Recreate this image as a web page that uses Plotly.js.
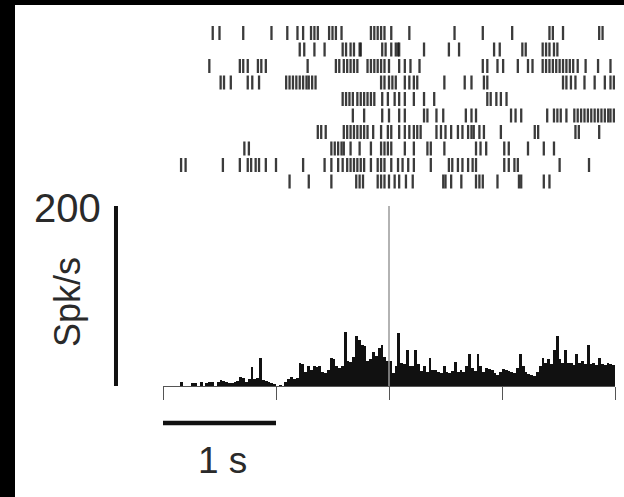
<!DOCTYPE html>
<html><head><meta charset="utf-8">
<script src="https://cdn.plot.ly/plotly-3.0.1.min.js"></script>
<style>
html,body{margin:0;padding:0;background:#000;width:624px;height:497px;overflow:hidden}
#chart{position:absolute;left:15px;top:5px;width:609px;height:492px;background:#fff}
</style></head><body><div id="chart"></div>
<script>
// Spike times (s) relative to event at t = 0, one array per trial (top to bottom)
const trial1 = [-1.56,-1.50,-1.29,-1.04,-0.90,-0.81,-0.76,-0.69,-0.66,-0.63,-0.53,-0.50,-0.47,-0.42,-0.16,-0.13,-0.10,-0.07,-0.04,0.02,0.18,0.58,0.83,1.09,1.42,1.45,1.54,1.86,1.89];
const trial2 = [-0.79,-0.75,-0.66,-0.57,-0.41,-0.38,-0.34,-0.31,-0.26,-0.25,-0.06,-0.03,0.02,0.06,0.08,0.09,0.31,0.53,0.62,0.93,0.98,1.18,1.21,1.36,1.39,1.42,1.46,1.49];
const trial3 = [-1.59,-1.32,-1.29,-1.25,-1.16,-1.13,-1.09,-0.72,-0.47,-0.44,-0.40,-0.37,-0.34,-0.31,-0.28,-0.19,-0.16,-0.13,-0.10,-0.07,-0.04,0.00,0.09,0.14,0.19,0.27,0.83,0.87,0.96,1.01,1.14,1.23,1.27,1.36,1.39,1.42,1.45,1.48,1.51,1.54,1.57,1.60,1.63,1.67,1.74,1.85,1.96];
const trial4 = [-1.49,-1.46,-1.40,-1.25,-1.21,-1.15,-0.91,-0.88,-0.85,-0.82,-0.79,-0.76,-0.73,-0.71,-0.68,-0.65,-0.07,-0.04,0.00,0.03,0.06,0.14,0.18,0.22,0.25,0.49,0.67,0.73,0.84,0.87,1.54,1.57,1.61,1.65,1.73,1.82,1.91,1.96,1.99];
const trial5 = [-0.41,-0.38,-0.35,-0.32,-0.28,-0.25,-0.22,-0.19,-0.16,-0.13,-0.06,-0.01,0.05,0.09,0.14,0.22,0.31,0.40,0.87,0.90,0.95,0.99,1.04];
const trial6 = [-0.32,-0.22,-0.06,0.00,0.09,0.14,0.31,0.34,0.42,0.48,0.68,0.73,0.77,1.08,1.12,1.17,1.40,1.46,1.49,1.52,1.57,1.64,1.67,1.70,1.73,1.76,1.79,1.82,1.85,1.88,1.91,1.94,1.96,1.99];
const trial7 = [-0.63,-0.60,-0.56,-0.40,-0.37,-0.34,-0.31,-0.28,-0.25,-0.22,-0.19,-0.14,-0.07,-0.01,0.02,0.09,0.14,0.18,0.22,0.25,0.28,0.42,0.46,0.50,0.55,0.61,0.65,0.70,0.73,0.75,0.80,0.84,0.99,1.29,1.32,1.65,1.68,1.86];
const trial8 = [-1.28,-1.24,-0.51,-0.48,-0.45,-0.42,-0.40,-0.34,-0.26,-0.16,-0.07,-0.04,-0.01,0.02,0.14,0.22,0.34,0.37,0.49,0.77,0.81,0.86,1.02,1.06,1.23,1.37,1.46];
const trial9 = [-1.84,-1.80,-1.47,-1.32,-1.25,-1.22,-1.18,-1.15,-1.09,-1.00,-0.76,-0.57,-0.51,-0.45,-0.41,-0.37,-0.34,-0.31,-0.28,-0.25,-0.22,-0.16,-0.10,-0.07,-0.04,0.02,0.08,0.12,0.17,0.22,0.37,0.53,0.56,0.61,0.65,0.70,0.74,0.77,1.02,1.06,1.11,1.14,1.51,1.77];
const trial10 = [-0.88,-0.71,-0.51,-0.29,-0.26,-0.23,-0.10,-0.07,-0.04,0.00,0.05,0.09,0.15,0.21,0.48,0.50,0.55,0.64,0.77,0.80,0.83,0.96,1.15,1.17,1.37,1.42];

// Peri-stimulus time histogram (spk/s), 25 ms bins from -2 s to +2 s
const psth = [0,0,0,0,0,0,4,0,0,0,3,3,0,4,0,3,4,4,0,5,7,6,5,3,3,4,6,10,9,5,8,21,8,9,31,7,6,5,3,2,
0,1,0,4,8,10,8,9,26,24,16,22,18,22,21,22,15,14,18,31,
30,22,20,22,60,28,27,32,55,51,46,44,28,30,38,33,42,46,32,28,
28,14,22,59,26,24,40,22,22,40,24,17,22,16,31,18,18,15,14,22,
16,14,17,27,16,18,15,22,36,20,17,36,22,16,20,19,18,14,12,16,
19,18,17,15,14,20,36,22,15,13,12,11,16,22,31,26,30,24,40,55,
30,25,40,26,25,23,36,25,28,24,45,24,26,23,31,24,23,26,24,23];
const binStart = -2.0;
const binWidth = 0.025;

const xTicks = [-2, -1, 0, 1, 2];
const scaleRate = 200;      // vertical scale bar, spk/s
const scaleTime = 1;        // horizontal scale bar, s
const labelRate = '200';
const labelUnits = 'Spk/s';
const labelTime = '1 s';

const trials = [trial1, trial2, trial3, trial4, trial5, trial6, trial7, trial8, trial9, trial10];
const rasterX = [], rasterY = [];
trials.forEach((tr, i) => tr.forEach(t => { rasterX.push(t); rasterY.push(i + 1); }));
const binCenters = psth.map((_, i) => binStart + binWidth * (i + 0.5));

const data = [
  {type: 'bar', x: binCenters, y: psth, width: binWidth, xaxis: 'x', yaxis: 'y',
   marker: {color: '#111', line: {width: 0}}, hoverinfo: 'skip'},
  {type: 'scatter', mode: 'markers', x: rasterX, y: rasterY, xaxis: 'x', yaxis: 'y2',
   marker: {symbol: 'line-ns', size: 10, color: '#222', line: {width: 2.3, color: 'rgba(25,25,25,0.85)'}}, hoverinfo: 'skip'}
];

const txtFont = {family: 'Liberation Sans, Arial, sans-serif', color: '#2a2a2a'};
const layout = {
  width: 609, height: 492,
  margin: {l: 148, r: 9, t: 10, b: 111},
  paper_bgcolor: '#fff', plot_bgcolor: '#fff',
  showlegend: false, bargap: 0,
  xaxis: {range: [-2, 2], tickvals: xTicks, showticklabels: false, ticks: 'outside', ticklen: 13,
          tickwidth: 1, tickcolor: '#555', showline: true, linecolor: '#555', linewidth: 1,
          showgrid: false, zeroline: false, anchor: 'y', fixedrange: true},
  yaxis: {domain: [0, 0.5], range: [0, 206], visible: false, showgrid: false, zeroline: false, fixedrange: true},
  yaxis2: {domain: [0.5, 1], range: [11.15, -0.09], visible: false, showgrid: false, zeroline: false, fixedrange: true},
  shapes: [
    {type: 'line', xref: 'x', yref: 'y', x0: 0, x1: 0, y0: 0, y1: scaleRate, line: {color: '#9a9a9a', width: 1.5}, layer: 'above'},
    {type: 'line', xref: 'paper', yref: 'y', x0: -0.104, x1: -0.104, y0: 0, y1: scaleRate, line: {color: '#111', width: 4}},
    {type: 'line', xref: 'x', yref: 'paper', x0: -2, x1: -2 + scaleTime, y0: -0.0997, y1: -0.0997, line: {color: '#111', width: 4.5}}
  ],
  annotations: [
    {text: labelRate, xref: 'paper', yref: 'paper', x: -0.2113, y: 0.4798, xanchor: 'center', yanchor: 'middle', showarrow: false, font: Object.assign({size: 40}, txtFont)},
    {text: labelUnits, xref: 'paper', yref: 'paper', x: -0.2124, y: 0.2264, xanchor: 'center', yanchor: 'middle', textangle: -90, showarrow: false, font: Object.assign({size: 36}, txtFont)},
    {text: labelTime, xref: 'paper', yref: 'paper', x: 0.1327, y: -0.1995, xanchor: 'center', yanchor: 'middle', showarrow: false, font: Object.assign({size: 37}, txtFont)}
  ]
};
Plotly.newPlot('chart', data, layout, {displayModeBar: false, staticPlot: true});
</script></body></html>
